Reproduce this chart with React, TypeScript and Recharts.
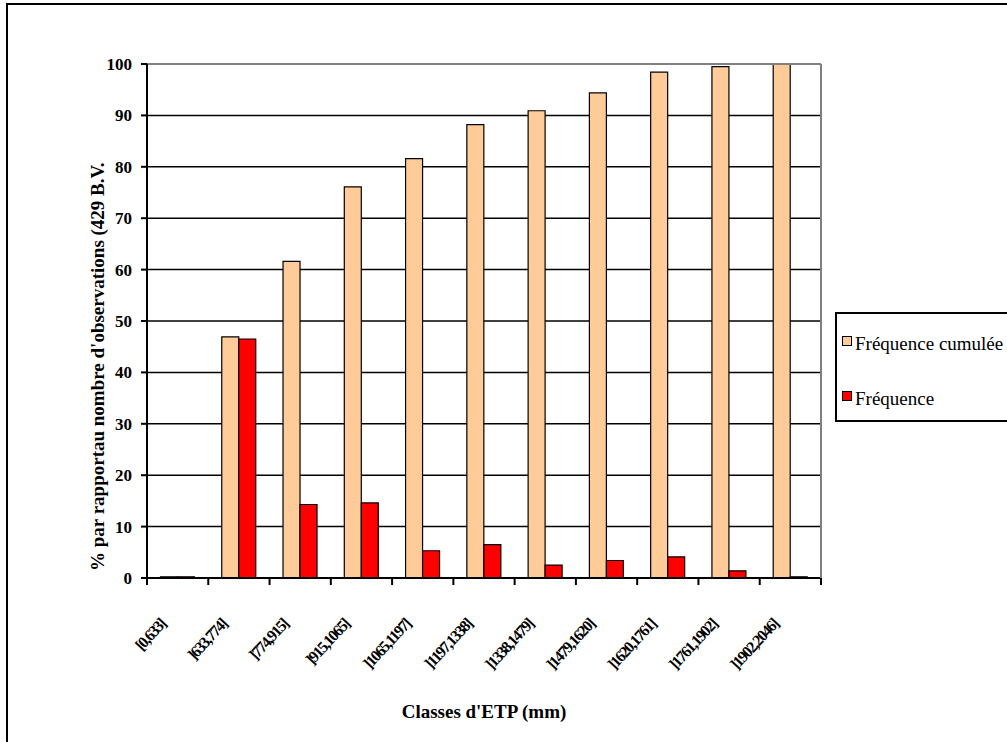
import { BarChart, Bar, XAxis, YAxis, CartesianGrid, ReferenceLine } from 'recharts';

// classes d'ETP (mm)
const classes = [
  '[0,633]',
  ']633,774]',
  ']774,915]',
  ']915,1065]',
  ']1065,1197]',
  ']1197,1338]',
  ']1338,1479]',
  ']1479,1620]',
  ']1620,1761]',
  ']1761,1902]',
  ']1902,2046]',
];
const frequenceCumulee = [0.23, 46.9, 61.6, 76.1, 81.6, 88.2, 90.9, 94.4, 98.4, 99.5, 100];
const frequence = [0.23, 46.5, 14.3, 14.6, 5.3, 6.5, 2.5, 3.4, 4.1, 1.4, 0.23];
const yTicks = [0, 10, 20, 30, 40, 50, 60, 70, 80, 90, 100];

const data = classes.map((c, i) => ({
  classe: c,
  cumulee: frequenceCumulee[i],
  freq: frequence[i],
}));

const FONT = "'Times New Roman', 'Liberation Serif', serif";
const HALF_BAND = 674 / classes.length / 2;

const XTick = (props: any) => {
  const { x, y, payload, index } = props;
  return (
    <g>
      <line x1={x - HALF_BAND} y1={y} x2={x - HALF_BAND} y2={y + 7} stroke="#000" strokeWidth={2} />
      {index === classes.length - 1 && (
        <line x1={x + HALF_BAND} y1={y} x2={x + HALF_BAND} y2={y + 7} stroke="#000" strokeWidth={2} />
      )}
      <text
        transform={`translate(${x - 11},${y + 47}) rotate(-47)`}
        textAnchor="end"
        fontFamily={FONT}
        fontWeight="bold"
        fontSize={16}
        letterSpacing={-1.5}
        fill="#000"
      >
        {payload.value}
      </text>
    </g>
  );
};

export default function App() {
  return (
    <div style={{ position: 'absolute', left: 0, top: 0, width: 1007, height: 742, overflow: 'hidden', background: '#fff', fontFamily: FONT }}>
      <BarChart
        width={1007}
        height={742}
        data={data}
        margin={{ top: 64, right: 185, left: 87, bottom: 64 }}
        barCategoryGap="22%"
        barGap={0}
      >
        <CartesianGrid vertical={false} stroke="#000" strokeWidth={1.5} />
        <XAxis
          dataKey="classe"
          interval={0}
          height={100}
          tickLine={false}
          tickSize={0}
          tickMargin={0}
          axisLine={{ stroke: '#000', strokeWidth: 2 }}
          tick={<XTick />}
        />
        <YAxis
          domain={[0, 100]}
          ticks={yTicks}
          width={60}
          tickSize={6}
          tickMargin={9}
          axisLine={{ stroke: '#000', strokeWidth: 2 }}
          tickLine={{ stroke: '#000', strokeWidth: 2 }}
          tick={{ fontFamily: FONT, fontWeight: 'bold', fontSize: 17, fill: '#000' }}
        />
        <YAxis
          yAxisId="r"
          orientation="right"
          width={1}
          tick={false}
          tickLine={false}
          axisLine={{ stroke: '#808080', strokeWidth: 2 }}
        />
        <ReferenceLine y={100} stroke="#808080" strokeWidth={2} />
        <Bar dataKey="cumulee" fill="#FFCC99" stroke="#000" strokeWidth={1.2} isAnimationActive={false} />
        <Bar dataKey="freq" fill="#FF0000" stroke="#000" strokeWidth={1.2} isAnimationActive={false} />
      </BarChart>

      <svg width={1007} height={742} style={{ position: 'absolute', left: 0, top: 0, pointerEvents: 'none' }}>
        <rect x={7} y={4} width={1010} height={750} fill="none" stroke="#000" strokeWidth={2} />
        <text
          transform="translate(104,571) rotate(-90)"
          textAnchor="start"
          fontFamily={FONT}
          fontWeight="bold"
          fontSize={19}
          fill="#000"
        >
          % par rapportau nombre d'observations (429 B.V.
        </text>
        <text x={484} y={718} textAnchor="middle" fontFamily={FONT} fontWeight="bold" fontSize={19} fill="#000">
          Classes d'ETP (mm)
        </text>
      </svg>

      <div
        style={{
          position: 'absolute',
          left: 835,
          top: 312,
          width: 200,
          height: 106,
          border: '2px solid #000',
          background: '#fff',
          fontFamily: FONT,
          fontSize: 19,
          color: '#000',
        }}
      >
        {[
          { label: 'Fréquence cumulée', color: '#FFCC99', top: 19 },
          { label: 'Fréquence', color: '#FF0000', top: 74 },
        ].map((it) => (
          <div key={it.label} style={{ position: 'absolute', left: 5, top: it.top, display: 'flex', alignItems: 'flex-end', whiteSpace: 'nowrap' }}>
            <span style={{ width: 8, height: 8, background: it.color, border: '1.5px solid #000', marginRight: 3, marginBottom: 9 }} />
            <span style={{ lineHeight: '22px' }}>{it.label}</span>
          </div>
        ))}
      </div>
    </div>
  );
}
